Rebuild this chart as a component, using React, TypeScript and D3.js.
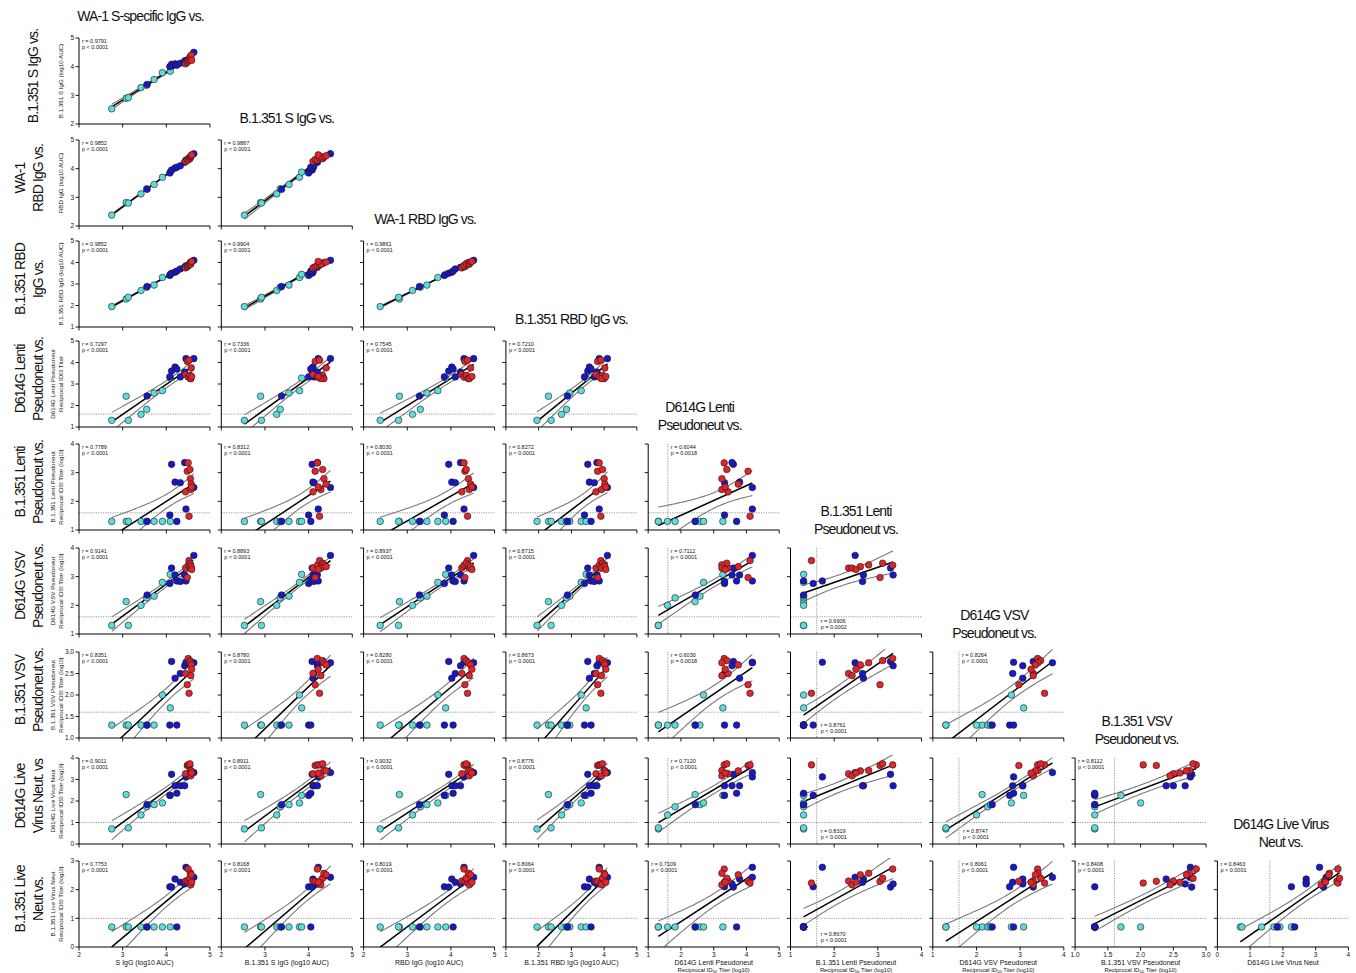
import React from "react";
import * as d3 from "d3";

// ---------- DATA (one entry per subject) ----------
const group = [
  "c", "c", "c", "c", "c", "c", "c", "c",
  "b", "b", "b", "b", "b", "b", "b", "b", "b",
  "r", "r", "r", "r", "r", "r", "r", "r", "r",
];
const sIgG = [2.75, 3.08, 3.13, 3.42, 3.55, 3.72, 3.91, 4.09, 3.56, 4.08, 4.12, 4.2, 4.24, 4.32, 4.42, 4.45, 4.63, 4.44, 4.48, 4.5, 4.52, 4.54, 4.55, 4.56, 4.57, 4.58];
const b1351SIgG = [2.53, 2.9, 2.92, 3.27, 3.35, 3.55, 3.79, 3.84, 3.38, 4.0, 4.08, 4.1, 4.05, 4.12, 4.2, 4.22, 4.5, 4.1, 4.15, 4.2, 4.25, 4.32, 4.35, 4.28, 4.4, 4.22];
const rbdIgG = [2.38, 2.82, 2.8, 3.12, 3.3, 3.45, 3.7, 3.88, 3.28, 3.85, 3.95, 4.02, 4.05, 4.1, 4.22, 4.3, 4.52, 4.25, 4.32, 4.3, 4.38, 4.35, 4.4, 4.42, 4.45, 4.48];
const b1351RbdIgG = [1.95, 2.3, 2.38, 2.7, 2.85, 2.95, 3.3, 3.45, 2.88, 3.4, 3.5, 3.55, 3.6, 3.7, 3.78, 3.85, 4.1, 3.75, 3.8, 3.85, 3.9, 3.95, 4.0, 3.92, 4.02, 4.05];
const d614gLenti = [1.31, 2.43, 1.31, 1.59, 1.82, 2.58, 2.69, 3.28, 2.44, 3.33, 3.6, 3.79, 3.7, 3.33, 3.56, 4.18, 4.18, 3.44, 4.05, 3.32, 4.11, 3.4, 3.25, 3.25, 3.75, 3.35];
const b1351Lenti = [1.3, 1.3, 1.3, 1.3, 1.3, 1.3, 1.3, 1.3, 1.3, 1.52, 3.29, 2.67, 1.3, 2.65, 3.35, 1.73, 2.48, 2.33, 3.05, 3.34, 1.48, 3.11, 2.79, 2.41, 2.6, 2.5];
const d614gVsv = [1.3, 2.13, 1.3, 2.0, 2.26, 2.32, 2.8, 3.08, 2.36, 2.76, 3.3, 3.06, 2.85, 2.83, 3.06, 2.85, 3.74, 3.3, 2.97, 3.4, 3.56, 3.47, 3.41, 3.3, 3.35, 3.25];
const b1351Vsv = [1.3, 1.3, 1.3, 1.3, 1.3, 1.3, 2.0, 1.7, 1.3, 1.3, 2.78, 2.39, 1.3, 2.5, 2.68, 2.76, 2.75, 2.5, 2.24, 2.85, 2.04, 2.8, 2.75, 2.45, 2.7, 2.6];
const d614gLive = [0.7, 2.3, 0.75, 1.35, 1.73, 1.83, 1.91, 2.26, 1.83, 2.26, 3.24, 2.71, 2.36, 2.71, 2.71, 3.12, 3.32, 3.27, 3.65, 3.68, 3.68, 3.73, 3.42, 3.17, 3.4, 3.3];
const b1351Live = [0.7, 0.7, 0.7, 0.7, 0.7, 0.7, 0.7, 0.7, 0.7, 2.1, 2.09, 2.37, 0.7, 2.26, 2.2, 2.78, 2.43, 2.3, 2.29, 2.72, 2.23, 2.4, 2.57, 2.17, 2.52, 2.26];

const varData = [sIgG, b1351SIgG, rbdIgG, b1351RbdIgG, d614gLenti, b1351Lenti, d614gVsv, b1351Vsv, d614gLive, b1351Live];
const domains: [number, number][] = [[2, 5], [2, 5], [2, 5], [1, 5], [1, 5], [1, 4], [1, 4], [1, 3], [0, 4], [0, 3]];
const tickVals = [
  [2, 3, 4, 5], [2, 3, 4, 5], [2, 3, 4, 5], [1, 2, 3, 4, 5], [1, 2, 3, 4, 5],
  [1, 2, 3, 4], [1, 2, 3, 4], [1, 1.5, 2, 2.5, 3], [0, 1, 2, 3, 4], [0, 1, 2, 3],
];
const tickFmt = ["d", "d", "d", "d", "d", "d", "d", ".1f", "d", "d"];
const yLod: (number | null)[] = [null, null, null, null, 1.6, 1.6, 1.6, 1.6, 1.0, 1.0];
const xLod: (number | null)[] = [null, null, null, null, 1.6, 1.6, 1.6, 1.6, 1.6, null];

const rLabels = [
  ["0.9791"],
  ["0.9852", "0.9887"],
  ["0.9852", "0.9904", "0.9861"],
  ["0.7297", "0.7336", "0.7545", "0.7210"],
  ["0.7789", "0.8312", "0.8030", "0.8272", "0.6044"],
  ["0.9141", "0.8893", "0.8937", "0.8715", "0.7112", "0.6906"],
  ["0.8351", "0.8780", "0.8280", "0.8673", "0.6030", "0.8761", "0.8264"],
  ["0.9011", "0.8911", "0.9032", "0.8776", "0.7120", "0.8319", "0.8747", "0.8112"],
  ["0.7753", "0.8168", "0.8019", "0.8064", "0.7109", "0.8670", "0.8061", "0.8408", "0.8463"],
];
const pLabels = [
  ["< 0.0001"],
  ["< 0.0001", "< 0.0001"],
  ["< 0.0001", "< 0.0001", "< 0.0001"],
  ["< 0.0001", "< 0.0001", "< 0.0001", "< 0.0001"],
  ["< 0.0001", "< 0.0001", "< 0.0001", "< 0.0001", "= 0.0018"],
  ["< 0.0001", "< 0.0001", "< 0.0001", "< 0.0001", "< 0.0001", "= 0.0002"],
  ["< 0.0001", "< 0.0001", "< 0.0001", "< 0.0001", "= 0.0018", "< 0.0001", "< 0.0001"],
  ["< 0.0001", "< 0.0001", "< 0.0001", "< 0.0001", "< 0.0001", "< 0.0001", "< 0.0001", "< 0.0001"],
  ["< 0.0001", "< 0.0001", "< 0.0001", "< 0.0001", "< 0.0001", "< 0.0001", "< 0.0001", "< 0.0001", "< 0.0001"],
];
const statPos = [
  ["t"],
  ["t", "t"],
  ["t", "t", "t"],
  ["t", "t", "t", "t"],
  ["t", "t", "t", "t", "l"],
  ["t", "t", "t", "t", "l", "b"],
  ["t", "t", "t", "t", "l", "b", "l"],
  ["t", "t", "t", "t", "l", "b", "b", "t"],
  ["t", "t", "t", "t", "t", "b", "l", "t", "t"],
];

const rowLabels = [
  ["B.1.351 S IgG vs."], ["WA-1", "RBD IgG vs."], ["B.1.351 RBD", "IgG vs."],
  ["D614G Lenti", "Pseudoneut vs."], ["B.1.351 Lenti", "Pseudoneut vs."],
  ["D614G VSV", "Pseudoneut vs."], ["B.1.351 VSV", "Pseudoneut vs."],
  ["D614G Live", "Virus Neut. vs"], ["B.1.351 Live", "Neut vs."],
];
const colHeaders = [
  ["WA-1 S-specific IgG vs."], ["B.1.351 S IgG vs."], ["WA-1 RBD IgG vs."], ["B.1.351 RBD IgG vs."],
  ["D614G Lenti", "Pseudoneut vs."], ["B.1.351 Lenti", "Pseudoneut vs."],
  ["D614G VSV", "Pseudoneut vs."], ["B.1.351 VSV", "Pseudoneut vs."], ["D614G Live Virus", "Neut vs."],
];
const yTitles = [
  ["B.1.351 S IgG (log10 AUC)"], ["RBD IgG (log10 AUC)"], ["B.1.351 RBD IgG (log10 AUC)"],
  ["D614G Lenti Pseudoneut", "Reciprocal ID_{50} Titer"],
  ["B.1.351 Lenti Pseudoneut", "Reciprocal ID_{50} Titer (log_{10})"],
  ["D614G VSV Pseudoneut", "Reciprocal ID_{50} Titer (log_{10})"],
  ["B.1.351 VSV Pseudoneut", "Reciprocal ID_{50} Titer (log_{10})"],
  ["D614G Live Virus Neut", "Reciprocal ID_{50} Titer (log_{10})"],
  ["B.1.351 Live Virus Neut", "Reciprocal ID_{50} Titer (log_{10})"],
];
const xTitles = [
  ["S IgG (log10 AUC)"], ["B.1.351 S IgG (log10 AUC)"], ["RBD IgG (log10 AUC)"], ["B.1.351 RBD IgG (log10 AUC)"],
  ["D614G Lenti Pseudoneut", "Reciprocal ID_{50} Titer (log10)"],
  ["B.1.351 Lenti Pseudoneut", "Reciprocal ID_{50} Titer (log10)"],
  ["D614G VSV Pseudoneut", "Reciprocal ID_{50} Titer (log10)"],
  ["B.1.351 VSV Pseudoneut", "Reciprocal ID_{50} Titer (log10)"],
  ["D614G Live Virus Neut"],
];

// ---------- STYLE / LAYOUT ----------
const W = 1356, H = 973;
const PW = 131, PH = 86;
const colLeft = d3.range(9).map((j) => 79 + 142.3 * j);
const rowBottom = [124, 226, 327, 427, 530, 634, 738, 844, 947];
const headerDx = [-4, 0, -4, 0, -14, 0, -4, -4, -2];
const colors: Record<string, string> = { c: "#5edcdc", b: "#1818c8", r: "#e3242b" };
const FONT = "'Liberation Sans', Arial, Helvetica, sans-serif";

function tCrit(df: number) {
  const z = 1.959964;
  return z + (z ** 3 + z) / (4 * df) + (5 * z ** 5 + 16 * z ** 3 + 3 * z) / (96 * df * df);
}

function fit(xs: number[], ys: number[]) {
  const n = xs.length;
  const mx = d3.mean(xs)!, my = d3.mean(ys)!;
  let sxx = 0, sxy = 0;
  for (let k = 0; k < n; k++) {
    sxx += (xs[k] - mx) ** 2;
    sxy += (xs[k] - mx) * (ys[k] - my);
  }
  const b = sxy / sxx, a = my - b * mx;
  let sse = 0;
  for (let k = 0; k < n; k++) sse += (ys[k] - (a + b * xs[k])) ** 2;
  const s = Math.sqrt(sse / (n - 2));
  const t = tCrit(n - 2);
  const [x0, x1] = d3.extent(xs) as [number, number];
  const grid = d3.range(0, 61).map((k) => x0 + ((x1 - x0) * k) / 60);
  const half = (x: number) => t * s * Math.sqrt(1 / n + (x - mx) ** 2 / sxx);
  return {
    fitLine: [[x0, a + b * x0], [x1, a + b * x1]] as [number, number][],
    upper: grid.map((x) => [x, a + b * x + half(x)] as [number, number]),
    lower: grid.map((x) => [x, a + b * x - half(x)] as [number, number]),
  };
}

function sub(s: string, key: string) {
  const parts = s.split(/_\{(\d+)\}/);
  const out: React.ReactNode[] = [];
  let shifted = false;
  parts.forEach((p, k) => {
    if (k % 2 === 1) {
      out.push(<tspan key={key + k} dy={1.4} fontSize="0.75em">{p}</tspan>);
      shifted = true;
    } else if (p.length) {
      out.push(<tspan key={key + k} dy={shifted ? -1.4 : 0}>{p}</tspan>);
      shifted = false;
    }
  });
  return out;
}

function Panel({ i, j }: { i: number; j: number }) {
  const yv = i + 1, xv = j;
  const left = colLeft[j], right = left + PW;
  const bottom = rowBottom[i], top = bottom - PH;
  const x = d3.scaleLinear().domain(domains[xv]).range([left, right]);
  const y = d3.scaleLinear().domain(domains[yv]).range([bottom, top]);
  const xs = varData[xv], ys = varData[yv];
  const f = fit(xs, ys);
  const line = d3.line<[number, number]>().x((d) => x(d[0])).y((d) => y(d[1]));
  const clipId = `clip-${i}-${j}`;
  const fy = d3.format(tickFmt[yv]);
  const fx = d3.format(tickFmt[xv]);
  const pos = statPos[i][j];
  const xl = xLod[xv];
  const yl = yLod[yv];
  let tx = left + 3, ty = top + 5;
  if (pos === "l" && xl != null) tx = x(xl) + 3;
  if (pos === "b" && xl != null) {
    tx = x(xl) + 4;
    ty = bottom - 11;
  }
  return (
    <g>
      <defs>
        <clipPath id={clipId}>
          <rect x={left} y={top - 3} width={PW + 2} height={PH + 3} />
        </clipPath>
      </defs>
      {yl != null && (
        <line x1={left} x2={right} y1={y(yl)} y2={y(yl)} stroke="#808080" strokeWidth={0.8} strokeDasharray="1.2 1.2" />
      )}
      {xl != null && (
        <line x1={x(xl)} x2={x(xl)} y1={top} y2={bottom} stroke="#808080" strokeWidth={0.8} strokeDasharray="1.2 1.2" />
      )}
      <g clipPath={`url(#${clipId})`}>
        <path d={line(f.upper)!} fill="none" stroke="#7a7a7a" strokeWidth={1.1} />
        <path d={line(f.lower)!} fill="none" stroke="#7a7a7a" strokeWidth={1.1} />
        <path d={line(f.fitLine)!} fill="none" stroke="#000" strokeWidth={1.5} />
      </g>
      {xs.map((xv0, k) => (
        <circle key={k} cx={x(xv0)} cy={y(ys[k])} r={3.3} fill={colors[group[k]]} stroke="#1a1a1a" strokeWidth={0.6} />
      ))}
      {/* axes */}
      <line x1={left} x2={left} y1={bottom} y2={top} stroke="#000" strokeWidth={1} />
      <line x1={left} x2={right} y1={bottom} y2={bottom} stroke="#000" strokeWidth={1} />
      {tickVals[yv].map((t) => (
        <line key={"yt" + t} x1={left - 3.5} x2={left} y1={y(t)} y2={y(t)} stroke="#000" strokeWidth={0.9} />
      ))}
      {tickVals[xv].map((t) => (
        <line key={"xt" + t} x1={x(t)} x2={x(t)} y1={bottom} y2={bottom + 3.5} stroke="#000" strokeWidth={0.9} />
      ))}
      {j === 0 &&
        tickVals[yv].map((t) => (
          <text key={"yl" + t} x={left - 5} y={y(t) + 2.2} fontSize={6.5} textAnchor="end" fill="#111">
            {fy(t)}
          </text>
        ))}
      {i === 8 &&
        tickVals[xv].map((t) => (
          <text key={"xl" + t} x={x(t)} y={bottom + 10} fontSize={6.5} textAnchor="middle" fill="#111">
            {fx(t)}
          </text>
        ))}
      {i === 8 &&
        xTitles[j].map((s, k) => (
          <text key={"xtt" + k} x={(left + right) / 2} y={965 + k * 6.5} fontSize={k === 0 ? 7 : 5.8} textAnchor="middle" fill="#111">
            {sub(s, "xs" + k)}
          </text>
        ))}
      <text x={tx} y={ty} fontSize={5.5} fill="#111">{`r = ${rLabels[i][j]}`}</text>
      <text x={tx} y={ty + 5.7} fontSize={5.5} fill="#111">{`p ${pLabels[i][j]}`}</text>
    </g>
  );
}

export default function App() {
  const panels: { i: number; j: number }[] = [];
  for (let i = 0; i < 9; i++) for (let j = 0; j <= i; j++) panels.push({ i, j });
  return (
    <svg width={W} height={H} style={{ position: "absolute", left: 0, top: 0, background: "#fff" }} fontFamily={FONT}>
      <rect x={0} y={0} width={W} height={H} fill="#fff" />
      {panels.map((p) => (
        <Panel key={`${p.i}-${p.j}`} i={p.i} j={p.j} />
      ))}
      {/* row labels */}
      {rowLabels.map((lines, i) => {
        const cy = rowBottom[i] - PH / 2 - 5;
        const xsPos = lines.length === 1 ? [33] : [20, 38];
        return lines.map((s, k) => (
          <text key={`rl${i}-${k}`} transform={`translate(${xsPos[k]},${cy}) rotate(-90)`} textAnchor="middle"
            dominantBaseline="central" fontSize={14} letterSpacing={-0.9} fill="#111">
            {s}
          </text>
        ));
      })}
      {/* y axis titles */}
      {yTitles.map((lines, i) => {
        const cy = rowBottom[i] - PH / 2;
        const xsPos = lines.length === 1 ? [60] : [52, 59.5];
        return lines.map((s, k) => (
          <text key={`yt${i}-${k}`} transform={`translate(${xsPos[k]},${cy}) rotate(-90)`} textAnchor="middle"
            dominantBaseline="central" fontSize={6.2} fill="#111">
            {sub(s, `ys${i}${k}`)}
          </text>
        ));
      })}
      {/* column headers */}
      {colHeaders.map((lines, j) => {
        const top = rowBottom[j] - PH;
        const cx = colLeft[j] + PW / 2 + headerDx[j];
        const base = lines.length === 1 ? [top - 17] : [top - 32, top - 14];
        return lines.map((s, k) => (
          <text key={`ch${j}-${k}`} x={cx} y={base[k]} textAnchor="middle" fontSize={14} letterSpacing={-0.9} fill="#111">
            {s}
          </text>
        ));
      })}
    </svg>
  );
}
